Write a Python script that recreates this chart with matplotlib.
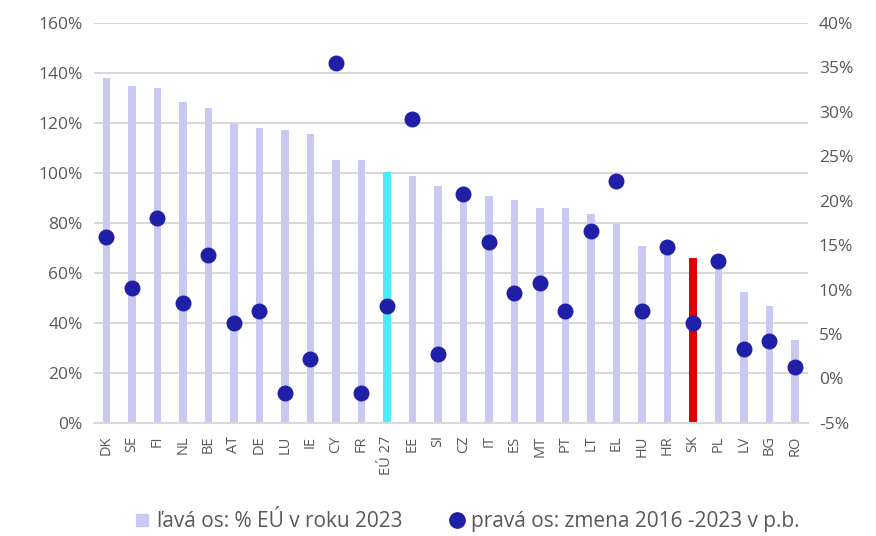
import matplotlib
matplotlib.use("Agg")
import matplotlib.pyplot as plt
from matplotlib.ticker import FuncFormatter

# countries and values
countries = ["DK", "SE", "FI", "NL", "BE", "AT", "DE", "LU", "IE", "CY", "FR", "EÚ 27", "EE", "SI",
             "CZ", "IT", "ES", "MT", "PT", "LT", "EL", "HU", "HR", "SK", "PL", "LV", "BG", "RO"]
level_2023 = [138, 134.8, 134, 128.4, 126, 119.6, 118, 117.2, 115.6, 105.2, 105.2, 100.2, 98.8, 94.8,
              92, 90.8, 89.2, 86, 86, 83.6, 79.6, 70.8, 70, 66, 65, 52.4, 46.8, 33.2]
change_16_23 = [15.9, 10.2, 18.1, 8.5, 13.9, 6.2, 7.6, -1.6, 2.2, 35.5, -1.6, 8.2, 29.2, 2.8,
                20.8, 15.4, 9.6, 10.7, 7.6, 16.6, 22.2, 7.6, 14.8, 6.2, 13.2, 3.3, 4.2, 1.3]

bar_col = "#c9c9f2"
colors = []
for c in countries:
    if c == "EÚ 27":
        colors.append("#4deaf8")
    elif c == "SK":
        colors.append("#e00000")
    else:
        colors.append(bar_col)

plt.rcParams['font.family'] = ['Open Sans', 'DejaVu Sans']
txt = "#595959"

fig = plt.figure(figsize=(8.76, 5.36), dpi=100)
ax = fig.add_axes([0.107, 0.211, 0.815, 0.746])
x = range(len(countries))
ax.bar(x, level_2023, width=0.3, color=colors, zorder=2)
ax.set_xlim(-0.5, len(countries) - 0.5)
ax.set_ylim(0, 160)
ax.set_yticks(range(0, 161, 20))
ax.yaxis.set_major_formatter(FuncFormatter(lambda v, p: "%d%%" % v))
ax.grid(axis='y', color="#d9d9d9", lw=1.5, zorder=0)
ax.set_axisbelow(True)
for s in ["top", "right", "left"]:
    ax.spines[s].set_visible(False)
ax.spines["bottom"].set_color("#d9d9d9")
ax.spines["bottom"].set_linewidth(1.5)
ax.set_xticks(list(x))
ax.set_xticklabels(countries, rotation=90, fontsize=10.5, color=txt)
ax.tick_params(axis='both', length=0)
ax.tick_params(axis='x', pad=9)
ax.tick_params(axis='y', labelsize=12.5, labelcolor=txt, pad=8)

ax2 = ax.twinx()
ax2.scatter(x, change_16_23, s=110, color="#1f1fa8", zorder=3)
ax2.set_ylim(-5, 40)
ax2.set_yticks(range(-5, 41, 5))
ax2.yaxis.set_major_formatter(FuncFormatter(lambda v, p: "%d%%" % v))
ax2.tick_params(axis='y', length=0, labelsize=12.5, labelcolor=txt, pad=8)
for s in ax2.spines.values():
    s.set_visible(False)

h1 = plt.Line2D([], [], marker='s', ls='', color=bar_col, markersize=9)
h2 = plt.Line2D([], [], marker='o', ls='', color="#1f1fa8", markersize=11)
fig.legend([h1, h2], ["ľavá os: % EÚ v roku 2023", "pravá os: zmena 2016 -2023 v p.b."],
           loc='center', bbox_to_anchor=(0.533, 0.027), ncol=2, frameon=False,
           fontsize=15, labelcolor=txt, handlelength=0.8, handletextpad=0.3, columnspacing=2.2)

fig.savefig("out.png", dpi=100)
